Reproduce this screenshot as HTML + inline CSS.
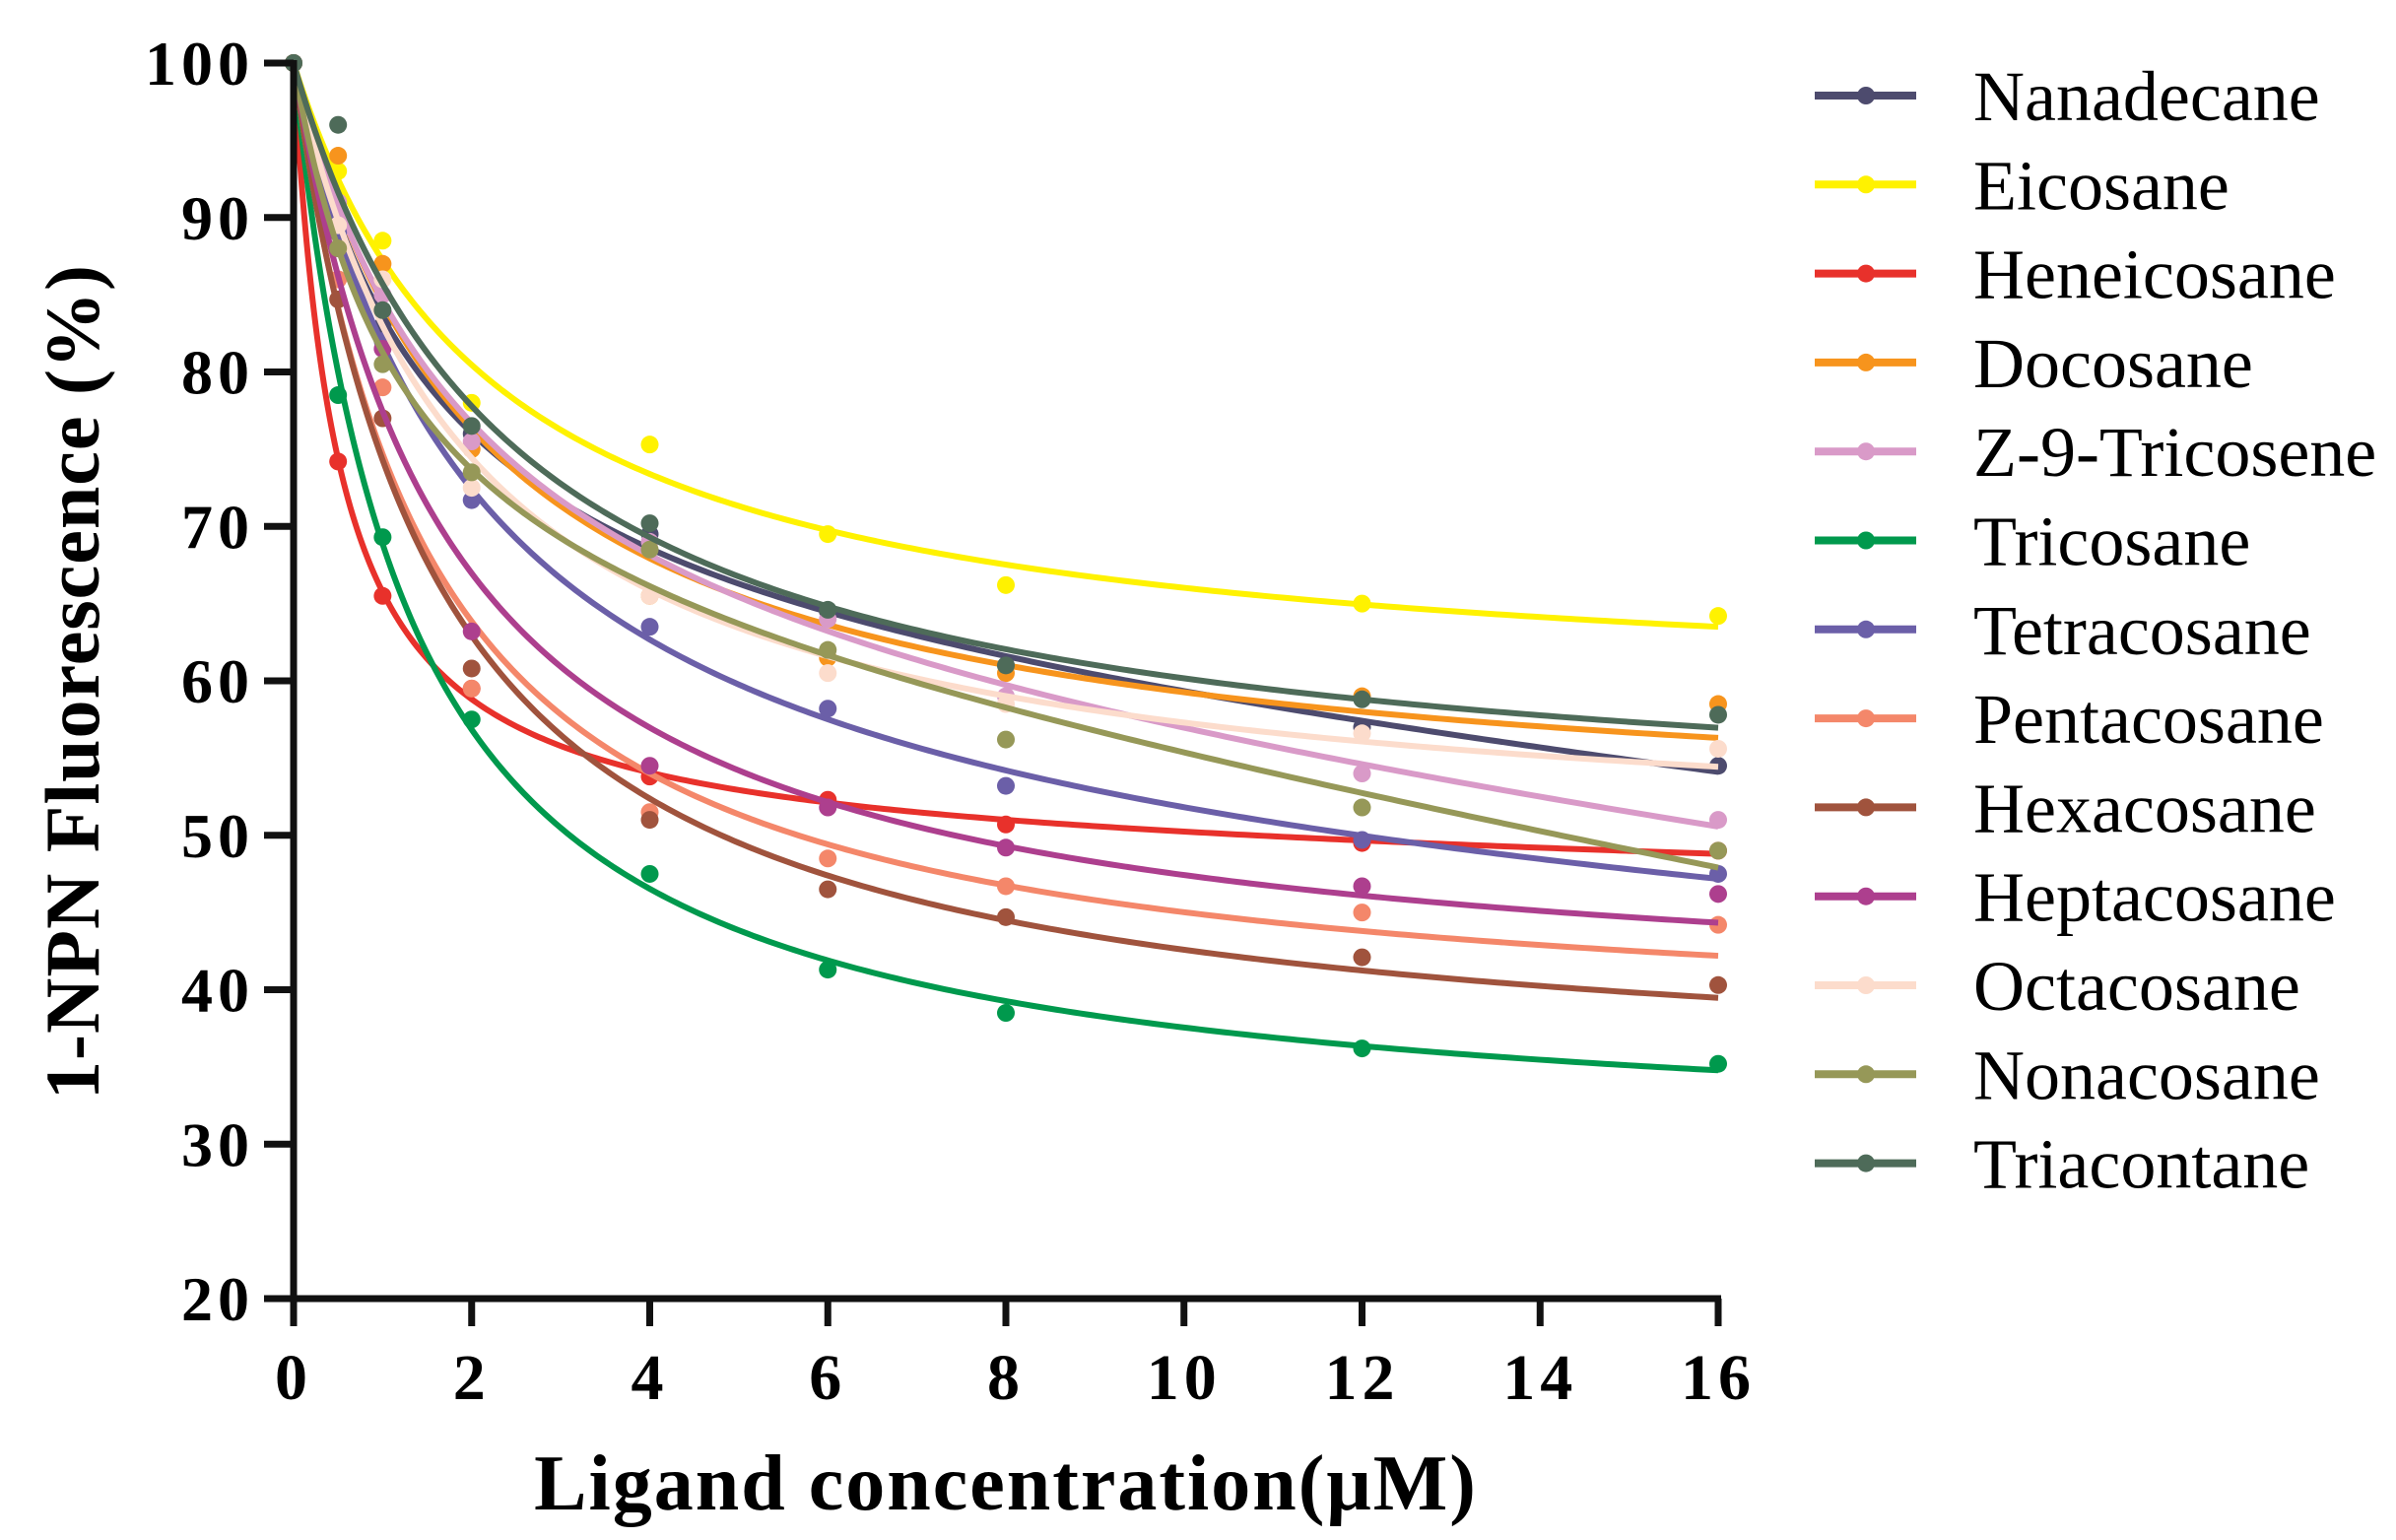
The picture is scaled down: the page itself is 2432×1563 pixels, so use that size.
<!DOCTYPE html>
<html><head><meta charset="utf-8"><style>
html,body{margin:0;padding:0;background:#fff;}
svg{display:block;}
</style></head><body>
<svg id="chart" width="2432" height="1563" viewBox="0 0 2432 1563" xmlns="http://www.w3.org/2000/svg">
<rect width="2432" height="1563" fill="#fff"/>
<g id="plot"></g>
<g id="axes"></g>
<g id="legend"></g>
<text x="1021" y="1532" text-anchor="middle" font-family="Liberation Serif, serif" font-weight="bold" font-size="80" letter-spacing="2">Ligand concentration(μM)</text>
<text transform="translate(100,692) rotate(-90)" text-anchor="middle" font-family="Liberation Serif, serif" font-weight="bold" font-size="78" letter-spacing="1">1-NPN Fluorescence (%)</text>
</svg>
<script>
const xValues = [0, 0.5, 1, 2, 4, 6, 8, 12, 16];
const seriesNames = ["Nanadecane","Eicosane","Heneicosane","Docosane","Z-9-Tricosene","Tricosane","Tetracosane","Pentacosane","Hexacosane","Heptacosane","Octacosane","Nonacosane","Triacontane"];
const seriesColors = ["#4d4b6e","#fff200","#e8312b","#f7941d","#d99ac8","#00994d","#6b5fa8","#f4876a","#a0533d","#ad3f8e","#fcdccc","#969858","#4e6b59"];
const nanadecane = [100, 90, 83, 76, 69.5, 64.5, 61, 57, 54.5];
const eicosane = [100, 93, 88.5, 78, 75.3, 69.5, 66.2, 65, 64.2];
const heneicosane = [100, 74.2, 65.5, 59.5, 53.8, 52.3, 50.7, 49.5, 49];
const docosane = [100, 94, 87, 75, 65.5, 61.5, 60.5, 59, 58.5];
const z9tricosene = [100, 91, 85, 75.5, 69, 64, 59, 54, 51];
const tricosane = [100, 78.5, 69.3, 57.5, 47.5, 41.3, 38.5, 36.2, 35.2];
const tetracosane = [100, 89, 82, 71.7, 63.5, 58.2, 53.2, 49.7, 47.5];
const pentacosane = [100, 86, 79, 59.5, 51.5, 48.5, 46.7, 45, 44.2];
const hexacosane = [100, 84.7, 77, 60.8, 51, 46.5, 44.7, 42.1, 40.3];
const heptacosane = [100, 88, 81.5, 63.2, 54.5, 51.8, 49.2, 46.7, 46.2];
const octacosane = [100, 89.5, 86, 72.5, 65.5, 60.5, 58.5, 56.6, 55.6];
const nonacosane = [100, 88, 80.5, 73.5, 68.5, 62, 56.2, 51.8, 49];
const triacontane = [100, 96, 84, 76.5, 70.2, 64.6, 61, 58.8, 57.8];
const seriesValues = [nanadecane,eicosane,heneicosane,docosane,z9tricosene,tricosane,tetracosane,pentacosane,hexacosane,heptacosane,octacosane,nonacosane,triacontane];
const xTicks = [0,2,4,6,8,10,12,14,16];
const yTicks = [20,30,40,50,60,70,80,90,100];

const NS = "http://www.w3.org/2000/svg";
const X0 = 298, X1 = 1744, Y0 = 1318, Y1 = 64;
function sx(v){ return X0 + (v - 0) / 16 * (X1 - X0); }
function sy(v){ return Y0 - (v - 20) / 80 * (Y0 - Y1); }
function mk(tag, attrs, parent){
  const e = document.createElementNS(NS, tag);
  for (const k in attrs) e.setAttribute(k, attrs[k]);
  parent.appendChild(e);
  return e;
}
const plot = document.getElementById('plot');
const axes = document.getElementById('axes');
const legend = document.getElementById('legend');

// least-squares fit: y = 100 - A*x/(K+x) - C*x
function fit(xs, ys){
  let best = null;
  for (let K = 0.05; K <= 20; K *= 1.03){
    for (const mode of [2, 1]){
      let s11=0,s12=0,s22=0,b1=0,b2=0;
      for (let i=0;i<xs.length;i++){
        const f1 = xs[i]/(K+xs[i]), f2 = xs[i], r = 100 - ys[i];
        s11+=f1*f1; s12+=f1*f2; s22+=f2*f2; b1+=f1*r; b2+=f2*r;
      }
      let A, C;
      if (mode === 2){
        const det = s11*s22 - s12*s12;
        if (Math.abs(det) < 1e-9) continue;
        A = (b1*s22 - b2*s12)/det; C = (s11*b2 - s12*b1)/det;
        if (C < 0 || A < 0) continue;
      } else { A = b1/s11; C = 0; }
      let err = 0;
      for (let i=0;i<xs.length;i++){
        const m = 100 - A*xs[i]/(K+xs[i]) - C*xs[i];
        err += (m-ys[i])*(m-ys[i]);
      }
      if (!best || err < best.err) best = {K, A, C, err};
    }
  }
  return best;
}

seriesValues.forEach((vals, si) => {
  const g = mk('g', {}, plot);
  
  
  const f = fit(xValues, vals);
  let d = "";
  const xmax = xValues[xValues.length-1];
  for (let j = 0; j <= 300; j++){
    const x = xmax * Math.pow(j/300, 1.6);
    const y = 100 - f.A*x/(f.K+x) - f.C*x;
    d += (j ? " L" : "M") + sx(x).toFixed(2) + "," + sy(y).toFixed(2);
  }
  const p = mk('path', {d: d, fill: 'none', stroke: seriesColors[si], 'stroke-width': 6, 'stroke-linejoin': 'round'}, g);
  
  
  vals.forEach((v, i) => {
    const c = mk('circle', {cx: sx(xValues[i]), cy: sy(v), r: 9, fill: seriesColors[si]}, g);
    
    
  });
});

// axes
const ya = mk('line', {x1: X0, y1: Y1 - 3, x2: X0, y2: Y0 + 3, stroke: '#111', 'stroke-width': 7}, axes);


const xa = mk('line', {x1: X0 - 3, y1: Y0, x2: X1 + 3, y2: Y0, stroke: '#111', 'stroke-width': 7}, axes);


yTicks.forEach(v => {
  const t = mk('line', {x1: 268, y1: sy(v), x2: X0, y2: sy(v), stroke: '#111', 'stroke-width': 7}, axes);
  
  
  const l = mk('text', {x: 258, y: sy(v) + 22, 'text-anchor': 'end', 'font-family': 'Liberation Serif, serif', 'font-weight': 'bold', 'font-size': 64, 'letter-spacing': 5}, axes);
  l.textContent = v;
  
  
});
xTicks.forEach(v => {
  const t = mk('line', {x1: sx(v), y1: Y0, x2: sx(v), y2: 1346, stroke: '#111', 'stroke-width': 7}, axes);
  
  
  const l = mk('text', {x: sx(v), y: 1420, 'text-anchor': 'middle', 'font-family': 'Liberation Serif, serif', 'font-weight': 'bold', 'font-size': 66, 'letter-spacing': 5}, axes);
  l.textContent = v;
  
  
});

// legend
seriesNames.forEach((n, i) => {
  const y = 97 + i * 90.3;
  const g = mk('g', {}, legend);
  
  
  mk('line', {x1: 1842, y1: y, x2: 1945, y2: y, stroke: seriesColors[i], 'stroke-width': 8}, g);
  mk('circle', {cx: 1894, cy: y, r: 9, fill: seriesColors[i]}, g);
  const t = mk('text', {x: 2003, y: y + 25, 'font-family': 'Liberation Serif, serif', 'font-size': 72}, g);
  t.textContent = n;
});
</script>
</body></html>
